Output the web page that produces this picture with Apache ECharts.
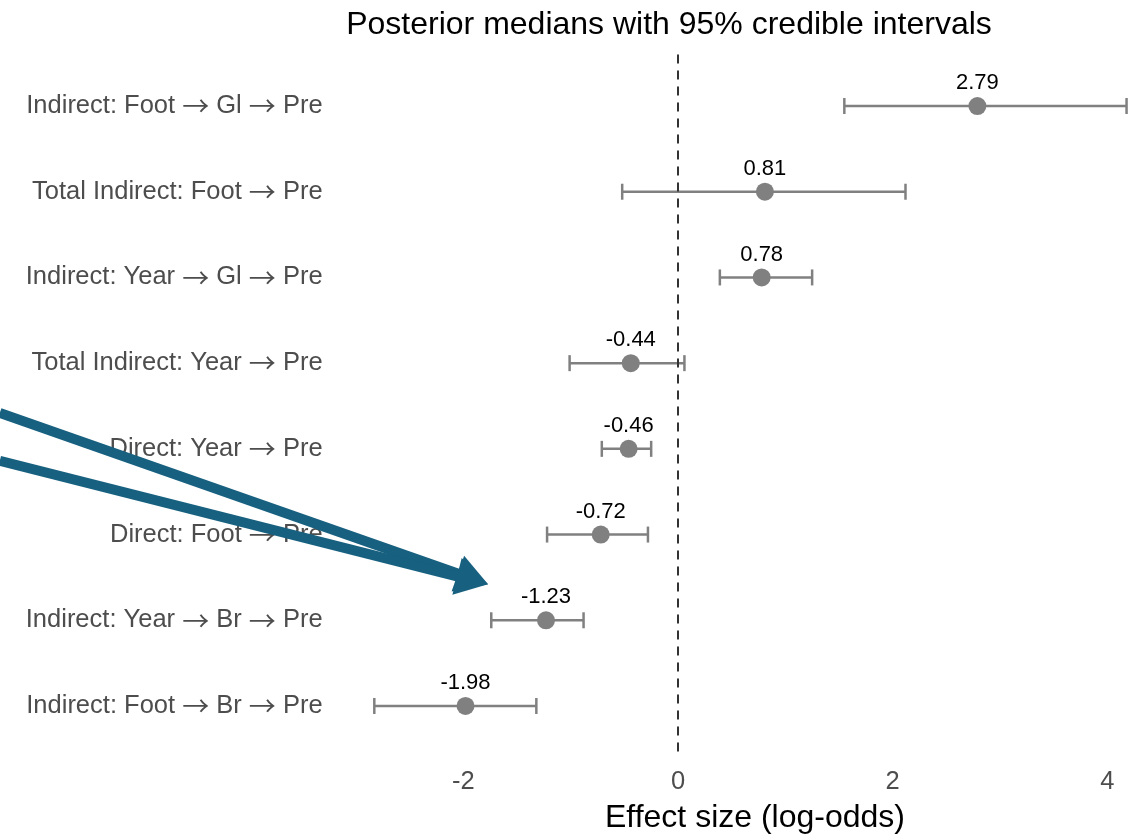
<!DOCTYPE html>
<html>
<head>
<meta charset="utf-8">
<script src="https://cdn.jsdelivr.net/npm/echarts@6/dist/echarts.min.js"></script>
<style>html,body{margin:0;padding:0;background:#fff;}#c{width:1135px;height:835px;}</style>
</head>
<body>
<div id="c"></div>
<script>
var categories = [
  'Indirect: Foot \u2192 Gl \u2192 Pre',
  'Total Indirect: Foot \u2192 Pre',
  'Indirect: Year \u2192 Gl \u2192 Pre',
  'Total Indirect: Year \u2192 Pre',
  'Direct: Year \u2192 Pre',
  'Direct: Foot \u2192 Pre',
  'Indirect: Year \u2192 Br \u2192 Pre',
  'Indirect: Foot \u2192 Br \u2192 Pre'
];
var medians = [2.79, 0.81, 0.78, -0.44, -0.46, -0.72, -1.23, -1.98];
var lower   = [1.55, -0.52, 0.39, -1.01, -0.71, -1.22, -1.74, -2.83];
var upper   = [4.18, 2.12, 1.25, 0.06, -0.25, -0.28, -0.88, -1.32];
var xTicks = [-2, 0, 2, 4];
// annotation arrows in data coordinates [x, row position]
var arrowStarts = [[-6.32, 3.58], [-6.32, 4.14]];
var arrowEnd = [-1.77, 5.58];

var GRAY = '#808080';
var chart = echarts.init(document.getElementById('c'));

var pointData = medians.map(function (m, i) { return [m, i]; });
var barData = medians.map(function (m, i) { return [lower[i], upper[i], i]; });

function richLabel(s) {
  return s.split('\u2192').map(function (part) { return '{t|' + part + '}'; }).join('{a|\u2192}');
}

var option = {
  animation: false,
  backgroundColor: '#ffffff',
  title: [
    { text: 'Posterior medians with 95% credible intervals', left: 664, top: 4, textAlign: 'center',
      textStyle: { fontFamily: 'Liberation Sans', fontSize: 32, fontWeight: 'normal', color: '#000' } },
    { text: 'Effect size (log-odds)', left: 750, top: 797, textAlign: 'center',
      textStyle: { fontFamily: 'Liberation Sans', fontSize: 32, fontWeight: 'normal', color: '#000' } }
  ],
  grid: { left: 334.6, right: 6.3, top: 54.6, bottom: 77.6, containLabel: false, outerBoundsMode: 'none' },
  xAxis: {
    type: 'value', min: -3.2, max: 4.2,
    axisLine: { show: false }, axisTick: { show: false }, splitLine: { show: false },
    axisLabel: { customValues: xTicks, fontFamily: 'Liberation Sans', fontSize: 25.5, color: '#4d4d4d', margin: 12 }
  },
  yAxis: {
    type: 'value', inverse: true, min: -0.6, max: 7.6,
    axisLine: { show: false }, axisTick: { show: false }, splitLine: { show: false },
    axisLabel: {
      customValues: [0, 1, 2, 3, 4, 5, 6, 7],
      formatter: function (v) { return richLabel(categories[Math.round(v)]); },
      color: '#4d4d4d', margin: 12,
      rich: {
        t: { fontFamily: 'Liberation Sans', fontSize: 25.5, color: '#4d4d4d', height: 30, verticalAlign: 'middle' },
        a: { fontFamily: 'Noto Sans CJK SC', fontSize: 27, color: '#4d4d4d', height: 30, verticalAlign: 'middle' }
      }
    }
  },
  series: [
    {
      type: 'custom',
      clip: false,
      data: barData,
      encode: { x: [0, 1], y: 2 },
      renderItem: function (params, api) {
        var y = api.value(2);
        var p1 = api.coord([api.value(0), y]);
        var p2 = api.coord([api.value(1), y]);
        var h = 8;
        var st = { stroke: GRAY, lineWidth: 2.5 };
        return {
          type: 'group',
          children: [
            { type: 'line', shape: { x1: p1[0], y1: p1[1], x2: p2[0], y2: p2[1] }, style: st },
            { type: 'line', shape: { x1: p1[0], y1: p1[1] - h, x2: p1[0], y2: p1[1] + h }, style: st },
            { type: 'line', shape: { x1: p2[0], y1: p2[1] - h, x2: p2[0], y2: p2[1] + h }, style: st }
          ]
        };
      },
      z: 2
    },
    {
      type: 'scatter',
      data: pointData,
      symbolSize: 18,
      itemStyle: { color: GRAY, opacity: 1 },
      label: {
        show: true, position: 'top', distance: 3,
        formatter: function (p) { return p.value[0].toFixed(2); },
        fontFamily: 'Liberation Sans', fontSize: 22, color: '#000'
      },
      markLine: {
        silent: true, symbol: 'none', label: { show: false },
        lineStyle: { color: '#333333', type: [9, 7], width: 2 },
        data: [{ xAxis: 0 }]
      },
      z: 3
    }
  ]
};
chart.setOption(option);

// annotation arrows
var tip = chart.convertToPixel({ gridIndex: 0 }, arrowEnd);
var gfx = [];
var COLOR = '#17607f';
arrowStarts.forEach(function (s) {
  var a = chart.convertToPixel({ gridIndex: 0 }, s);
  var dx = tip[0] - a[0], dy = tip[1] - a[1];
  var len = Math.sqrt(dx * dx + dy * dy);
  var ux = dx / len, uy = dy / len;
  var headLen = 32, headW = 19;
  var bx = tip[0] - ux * headLen, by = tip[1] - uy * headLen;
  gfx.push({ type: 'line', z: 100,
    shape: { x1: a[0], y1: a[1], x2: bx + ux * 2, y2: by + uy * 2 },
    style: { stroke: COLOR, lineWidth: 10 } });
  gfx.push({ type: 'polygon', z: 100,
    shape: { points: [[tip[0], tip[1]], [bx - uy * headW, by + ux * headW], [bx + uy * headW, by - ux * headW]] },
    style: { fill: COLOR } });
});
chart.setOption({ graphic: gfx });
</script>
</body>
</html>
